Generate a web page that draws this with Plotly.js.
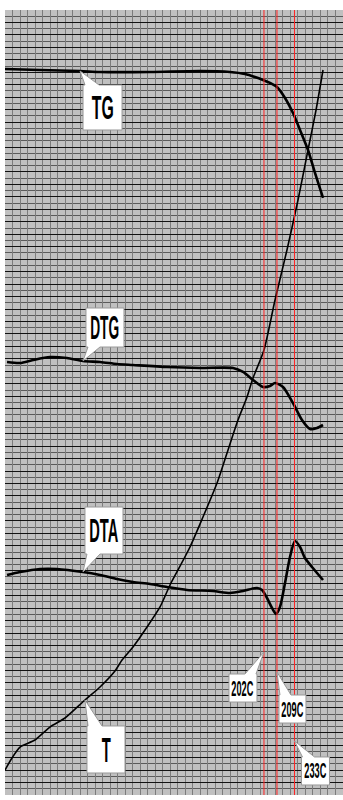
<!DOCTYPE html>
<html>
<head>
<meta charset="utf-8">
<script src="https://cdn.plot.ly/plotly-3.0.1.min.js"></script>
<style>html,body{margin:0;padding:0;background:#fff;}#chart{width:343px;height:800px;}</style>
</head>
<body>
<div id="chart"></div>
<script>
// ---- data (x: time in grid divisions, y: signal in grid divisions) ----
const tgTime = [0, 4.66, 9.99, 12.65, 19.31, 25.96, 29.96, 31.95, 33.28, 34.35, 35.28, 36.21, 37.28, 38.34, 39.28, 40.34, 41.27, 42.34];
const tgVal  = [116.53, 116.37, 116.21, 116.05, 116.05, 116.21, 116.05, 115.73, 115.25, 114.77, 114.29, 113.64, 111.88, 109.47, 106.74, 103.53, 99.84, 95.83];

const dtgTime = [0.27, 2.0, 3.73, 5.99, 8.25, 10.38, 12.65, 14.91, 17.04, 21.57, 25.96, 30.36, 31.69, 33.02, 34.35, 35.28, 35.95, 37.01, 38.34, 39.54, 40.61, 41.54, 42.34];
const dtgVal  = [69.50, 69.34, 69.82, 70.30, 70.14, 69.66, 69.50, 69.18, 69.02, 68.70, 68.54, 68.54, 67.90, 66.61, 65.49, 65.65, 66.13, 65.49, 62.92, 60.19, 58.75, 58.91, 59.39];

const dtaTime = [0.27, 2.0, 4.66, 6.92, 10.38, 12.65, 14.91, 17.04, 19.31, 21.57, 24.23, 27.69, 29.96, 31.69, 33.55, 34.22, 34.88, 35.55, 36.08, 36.61, 37.28, 37.94, 38.61, 39.28, 39.94, 40.87, 42.34];
const dtaVal  = [35.31, 35.79, 36.28, 36.28, 35.79, 35.31, 34.67, 34.19, 33.87, 33.39, 32.91, 32.74, 32.42, 32.74, 33.23, 32.91, 31.62, 30.02, 29.05, 30.18, 34.03, 38.20, 40.77, 39.81, 38.04, 36.60, 34.51];

const tTime = [0, 0.93, 2.0, 3.99, 5.99, 7.99, 10.65, 12.65, 14.64, 15.58, 17.04, 18.91, 20.64, 21.97, 23.03, 24.63, 26.36, 28.23, 29.56, 31.02, 32.22, 33.02, 34.48, 35.95, 37.54, 39.01, 40.34, 41.41, 42.34];
const tVal  = [4.01, 5.94, 7.70, 8.83, 10.91, 12.36, 15.25, 17.34, 19.90, 21.67, 23.76, 26.97, 30.18, 33.71, 36.12, 39.81, 44.62, 50.08, 54.90, 60.19, 63.88, 66.93, 71.43, 79.45, 87.48, 95.51, 103.53, 109.95, 116.37];

// event markers
const eventLabels = ['202C', '209C', '233C'];
const eventTime   = [34.48, 36.21, 38.54];
const eventTipY   = [22.95, 19.74, 8.67];

const seriesNames = ['TG', 'DTG', 'DTA', 'T'];

// ---- layout constants ----
const W = 343, H = 800, ML = 5, MR = 0, MT = 10, MB = 5;
const XR = [0, 45], YR = [0, 126];
const pxX = (W - ML - MR) / (XR[1] - XR[0]);
const pxY = (H - MT - MB) / (YR[1] - YR[0]);

const lineTraces = [
  {x: tgTime,  y: tgVal,  w: 2.6},
  {x: dtgTime, y: dtgVal, w: 2.6},
  {x: dtaTime, y: dtaVal, w: 2.6},
  {x: tTime,   y: tVal,   w: 1.6}
];
const traces = lineTraces.map((s, i) => ({
  type: 'scatter', mode: 'lines', name: seriesNames[i], x: s.x, y: s.y,
  line: {color: '#000', width: s.w, shape: 'spline', smoothing: 0.7},
  hoverinfo: 'skip'
}));

// callout geometry in pixel offsets relative to the tip: [bx0,bx1,by0,by1,wx0,wx1] (dy positive = down)
const curveTips = [[tgTime, tgVal, 2], [dtgTime, dtgVal, 5], [dtaTime, dtaVal, 4], [tTime, tVal, 6]];
const curveBoxes = [
  [3, 42, 14, 59, 5, 19],
  [3, 41, -53, -14, 5, 17],
  [2, 40, -65, -18, 4, 17],
  [2, 40, 26, 73, 3, 17]
];
const eventBoxes = [
  [-35, -7, 22, 50, -19, -8],
  [2, 29, 23, 51, 3, 14],
  [7, 35, 16, 44, 8, 20]
];
// target glyph width / cap height of each label, px
const curveTextSize = [[22, 23], [29, 23], [29, 23], [9, 25]];
const eventTextSize = [22, 16];

const callouts = [];
curveTips.forEach((c, i) => callouts.push({tx: c[0][c[2]], ty: c[1][c[2]], box: curveBoxes[i], text: seriesNames[i], size: 30, tw: curveTextSize[i][0], th: curveTextSize[i][1]}));
eventLabels.forEach((l, i) => callouts.push({tx: eventTime[i], ty: eventTipY[i], box: eventBoxes[i], text: l, size: 22, tw: eventTextSize[0], th: eventTextSize[1]}));

function P(tx, ty, dx, dy) { return (tx + dx / pxX).toFixed(4) + ',' + (ty - dy / pxY).toFixed(4); }

const shapes = [];
eventTime.forEach(t => shapes.push({
  type: 'line', xref: 'x', yref: 'paper', x0: t, x1: t, y0: 0, y1: 1,
  line: {color: '#ff2020', width: 1}, layer: 'above'
}));
const annotations = [];
callouts.forEach(c => {
  const [bx0, bx1, by0, by1, wx0, wx1] = c.box;
  let path;
  if (by0 > 0) { // box below tip, wedge on top edge
    path = 'M' + P(c.tx, c.ty, bx0, by0) + 'L' + P(c.tx, c.ty, wx0, by0) + 'L' + P(c.tx, c.ty, 0, 0) +
           'L' + P(c.tx, c.ty, wx1, by0) + 'L' + P(c.tx, c.ty, bx1, by0) + 'L' + P(c.tx, c.ty, bx1, by1) +
           'L' + P(c.tx, c.ty, bx0, by1) + 'Z';
  } else { // box above tip, wedge on bottom edge
    path = 'M' + P(c.tx, c.ty, bx0, by0) + 'L' + P(c.tx, c.ty, bx1, by0) + 'L' + P(c.tx, c.ty, bx1, by1) +
           'L' + P(c.tx, c.ty, wx1, by1) + 'L' + P(c.tx, c.ty, 0, 0) + 'L' + P(c.tx, c.ty, wx0, by1) +
           'L' + P(c.tx, c.ty, bx0, by1) + 'Z';
  }
  shapes.push({type: 'path', xref: 'x', yref: 'y', path: path, fillcolor: '#ffffff',
    line: {color: '#9a9a9a', width: 1}, layer: 'above'});
  annotations.push({
    xref: 'x', yref: 'y', x: c.tx + ((bx0 + bx1) / 2) / pxX, y: c.ty - ((by0 + by1) / 2) / pxY,
    text: c.text, showarrow: false, xanchor: 'center', yanchor: 'middle',
    font: {family: 'Liberation Sans, Arial, sans-serif', size: c.size, color: '#000', weight: 'bold'}
  });
});

const layout = {
  width: W, height: H,
  margin: {l: ML, r: MR, t: MT, b: MB, pad: 0},
  paper_bgcolor: '#ffffff', plot_bgcolor: '#c0c0c0',
  showlegend: false,
  xaxis: {range: XR, dtick: 1, tick0: 0, showgrid: true, gridcolor: '#7c7c7c', gridwidth: 1,
          zeroline: false, showline: false, showticklabels: false, ticks: '', fixedrange: true},
  yaxis: {range: YR, dtick: 2, tick0: 0, showgrid: true, gridcolor: '#111111', gridwidth: 1,
          minor: {dtick: 1, showgrid: true, gridcolor: '#5a5a5a', gridwidth: 1},
          zeroline: false, showline: false, showticklabels: false, ticks: '', fixedrange: true},
  shapes: shapes,
  annotations: annotations
};

Plotly.newPlot('chart', traces, layout, {displayModeBar: false, staticPlot: true}).then(() => {
  const groups = document.querySelectorAll('#chart .annotation');
  groups.forEach((g, i) => {
    const t = g.querySelector('text');
    const c = callouts[i];
    if (!t || !c) return;
    const b = t.getBBox();
    if (!b.width || !b.height) return;
    const cx = b.x + b.width / 2;
    const cy = b.y + b.height * 0.5;
    const sx = c.tw / b.width;
    const sy = c.th / (b.height * 0.64);
    t.setAttribute('transform', 'translate(' + cx + ' ' + cy + ') scale(' + sx.toFixed(3) + ' ' + sy.toFixed(3) + ') translate(' + (-cx) + ' ' + (-cy) + ')');
  });
});
</script>
</body>
</html>
